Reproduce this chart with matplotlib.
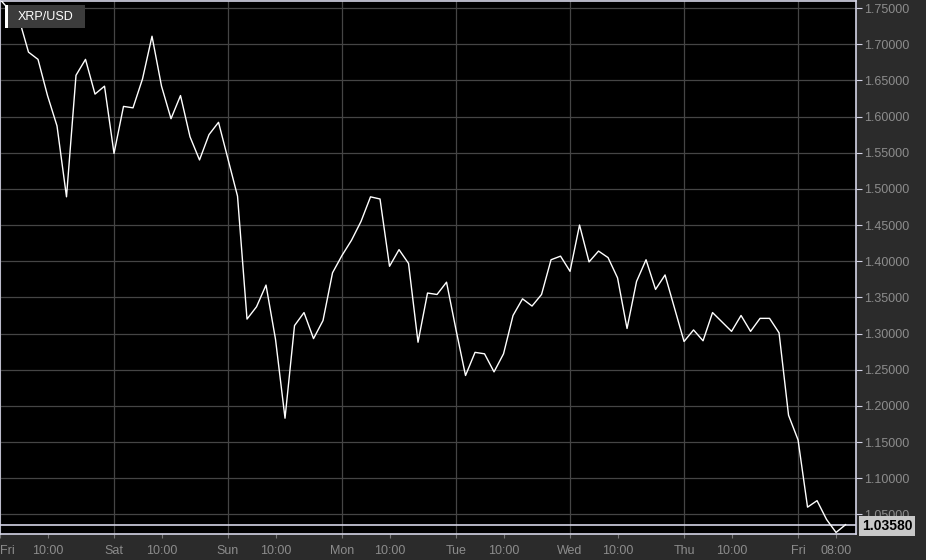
import numpy as np
import matplotlib.pyplot as plt
from matplotlib.patches import Rectangle
import matplotlib.transforms as mtransforms

plt.rcParams['font.family'] = ['Liberation Sans', 'DejaVu Sans']

# XRP/USD, one point every 2 hours starting Friday 00:00
hours = np.arange(0, 180, 2)
price = [1.762, 1.747, 1.735, 1.689, 1.679, 1.629, 1.587, 1.489, 1.657, 1.679,
         1.631, 1.642, 1.549, 1.614, 1.612, 1.652, 1.711, 1.642, 1.597, 1.629,
         1.572, 1.540, 1.575, 1.592, 1.541, 1.490, 1.320, 1.337, 1.367, 1.292,
         1.183, 1.311, 1.329, 1.293, 1.318, 1.384, 1.408, 1.429, 1.455, 1.489,
         1.486, 1.393, 1.416, 1.397, 1.288, 1.356, 1.354, 1.371, 1.305, 1.242,
         1.274, 1.272, 1.247, 1.272, 1.325, 1.348, 1.338, 1.354, 1.402, 1.407,
         1.386, 1.450, 1.399, 1.414, 1.405, 1.377, 1.307, 1.372, 1.402, 1.361,
         1.381, 1.335, 1.289, 1.305, 1.290, 1.329, 1.316, 1.303, 1.325, 1.303,
         1.321, 1.321, 1.301, 1.187, 1.153, 1.060, 1.069, 1.043, 1.025, 1.0358]
last_price = 1.0358

day_hours = [0, 24, 48, 72, 96, 120, 144, 168]
tick_hours = [0, 10, 24, 34, 48, 58, 72, 82, 96, 106, 120, 130, 144, 154, 168, 176]
tick_labels = ['Fri', '10:00', 'Sat', '10:00', 'Sun', '10:00', 'Mon', '10:00',
               'Tue', '10:00', 'Wed', '10:00', 'Thu', '10:00', 'Fri', '08:00']
y_ticks = np.arange(1.05, 1.7501, 0.05)

bg = '#2b2b2b'
border = '#d4d4e6'
grid_c = '#454545'
text_c = '#8c8c8c'

fig = plt.figure(figsize=(9.26, 5.60), dpi=100, facecolor=bg)
ax = fig.add_axes([0 / 926, 26 / 560, 856 / 926, 533 / 560])
ax.set_facecolor('black')

# grid
for yv in y_ticks:
    ax.axhline(yv, color=grid_c, linewidth=0.9, zorder=1)
for d in day_hours:
    ax.axvline(d, color=grid_c, linewidth=0.9, zorder=1)

ax.plot(hours, price, color='white', linewidth=1.0, zorder=3)
ax.axhline(last_price, color=border, linewidth=1.2, zorder=2)

ax.set_xlim(0, 180.2)
ax.set_ylim(1.0229, 1.7597)

for s in ax.spines.values():
    s.set_color(border)
    s.set_linewidth(1.2)

ax.yaxis.tick_right()
ax.set_yticks(y_ticks)
ax.set_yticklabels(['%.5f' % v for v in y_ticks])
ax.tick_params(axis='y', colors=border, labelcolor=text_c, labelsize=9,
               length=4, width=0.8, pad=2)
ax.set_xticks(tick_hours)
ax.set_xticklabels(tick_labels)
ax.tick_params(axis='x', colors='#777777', labelcolor=text_c, labelsize=9,
               length=3, width=0.8, pad=5)
ax.get_xticklabels()[0].set_horizontalalignment('left')

# current price tag
trans = mtransforms.blended_transform_factory(ax.transAxes, ax.transData)
ax.text(1.007, last_price - 0.002, '%.5f' % last_price, transform=trans, ha='left',
        va='center', fontsize=10, fontweight='bold', color='black',
        bbox=dict(boxstyle='square,pad=0.2', fc='#c8c8c8', ec='none'),
        clip_on=False, zorder=5)

# symbol label box
W, H = 856, 533
ax.add_patch(Rectangle((5 / W, 1 - 27 / H), 80 / W, 23 / H, transform=ax.transAxes,
                       facecolor='#3c3c3c', edgecolor='none', zorder=4))
ax.add_patch(Rectangle((5 / W, 1 - 27 / H), 3 / W, 23 / H, transform=ax.transAxes,
                       facecolor='white', edgecolor='none', zorder=5))
ax.text(18 / W, 1 - 15.5 / H, 'XRP/USD', transform=ax.transAxes, color='white',
        fontsize=9, ha='left', va='center', zorder=6)

fig.savefig('out.png', dpi=100, facecolor=bg)
